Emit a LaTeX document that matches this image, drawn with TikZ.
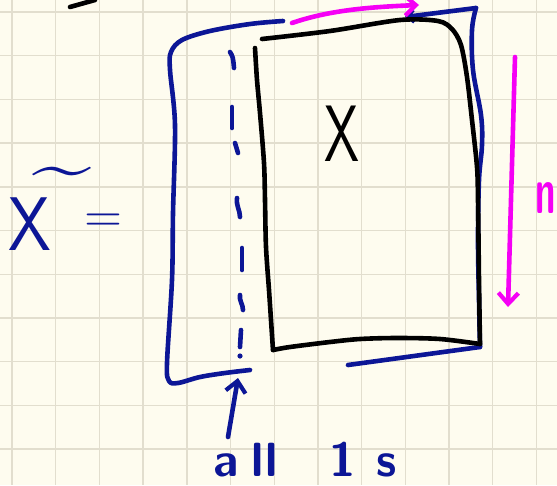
\documentclass[tikz,border=0pt]{standalone}
\usetikzlibrary{arrows.meta}
\definecolor{paper}{RGB}{254,252,239}
\definecolor{gridc}{RGB}{226,222,206}
\definecolor{ink}{RGB}{12,22,150}
\definecolor{pink}{RGB}{245,0,245}
\tikzset{
  pen/.style={line width=4.6pt, line cap=round, line join=round},
  blu/.style={pen, draw=ink},
  blk/.style={pen, draw=black},
  mag/.style={pen, draw=pink},
  barb/.style={-{Straight Barb[length=11pt,width=20pt,line width=4.2pt]}},
  smallbarb/.style={-{Straight Barb[length=6pt,width=12pt,line width=4pt]}},
  gridline/.style={draw=gridc, line width=1.4pt},
  hand/.style={inner sep=0pt, font=\sffamily}
}
\begin{document}
\begin{tikzpicture}[x=1pt,y=-1pt]
\fill[paper] (0,0) rectangle (557,485);
\useasboundingbox (0,0) rectangle (557,485);
% grid
\foreach \i in {0,...,12} \draw[gridline] ({12+43.7*\i},0) -- ({12+43.7*\i},485);
\foreach \i in {0,...,10} \draw[gridline] (0,{12+43.7*\i}) -- (557,{12+43.7*\i});

% top-left fragment
\draw[blk] (70,7) -- (95,0);

% blue back outline, left part
\draw[blu] plot[smooth, tension=0.55] coordinates {(283,21) (250,24) (210,31) (182,40) (171,52) (170,70) (175,125) (173,213) (172,280) (167,363) (169,381) (178,383) (200,377) (225,373) (250,370)};
% blue right part
\coordinate (bTR) at (476,8);
\coordinate (bTip) at (405,17);
\draw[blu, smallbarb] (bTR) -- (bTip);
\draw[blu] plot[smooth, tension=0.6] coordinates {(476,8) (472,30) (473,70) (481,115) (482,145) (479,180) (478,240) (479,300) (480,347)};
\coordinate (bBR) at (480,347);
\coordinate (bBL) at (348,365);
\draw[blu] (bBR) -- (bBL);

% black front matrix X
\draw[blk] plot[smooth, tension=0.5] coordinates {(262,39) (330,31) (400,20) (438,21) (452,29) (461,45) (467,77) (472,120) (477,167) (478,200) (479,280) (480,344)};
\draw[blk] plot[smooth, tension=0.5] coordinates {(480,344) (440,339) (397,338) (360,339) (330,342) (290,347) (273,350)};
\draw[blk] plot[smooth, tension=0.5] coordinates {(273,350) (271,320) (269,290) (266,247) (265,200) (264,163) (260,113) (257,80) (255,48)};

% dashed blue column
\draw[blu] (230,52) .. controls (233,57) .. (234,68);
\draw[blu] (232,107) -- (232,128);
\draw[blu] (235,143) -- (238,153);
\draw[blu] (237,198) .. controls (236,206) and (240,210) .. (240,217);
\draw[blu] (242,248) -- (242,270);
\draw[blu] (240,295) .. controls (239,301) and (243,304) .. (243,310);
\draw[blu] (241,330) -- (240,347);
\fill[ink] (240,356) circle (2.6pt);

% magenta arrows
\coordinate (mA) at (292,23);
\coordinate (mB) at (419,5);
\draw[mag, barb] (mA) .. controls (330,10) and (370,7) .. (mB);
\coordinate (mC) at (515,57);
\coordinate (mD) at (508,307);
\draw[mag, barb] (mC) -- (mD);

% all 1s arrow
\coordinate (aA) at (228,437);
\coordinate (aB) at (238,378);
\draw[blu, barb] (aA) -- (aB);

% texts
\node[hand, anchor=base] (xin) at (342,161) {\fontsize{80}{80}\selectfont\scalebox{0.7}[1]{X}};
\node[hand, anchor=base west, text=ink] (xt) at (8,250) {\fontsize{76}{76}\selectfont\rlap{\hspace{24pt}\raisebox{60pt}{\scalebox{1.4}[1]{\textasciitilde}}}\scalebox{0.9}[1]{X}\hspace{34pt}\raisebox{18pt}{\fontsize{52}{52}\selectfont =}};
\node[hand, anchor=base west, text=ink] (all) at (213,476) {\fontsize{48}{48}\selectfont\bfseries a\kern13pt l\kern2pt l\kern52pt 1\kern20pt s};
\node[hand, anchor=base west, text=pink] (nn) at (535,213) {\fontsize{66}{66}\selectfont\bfseries\scalebox{0.55}[1]{n}};
\end{tikzpicture}
\end{document}
